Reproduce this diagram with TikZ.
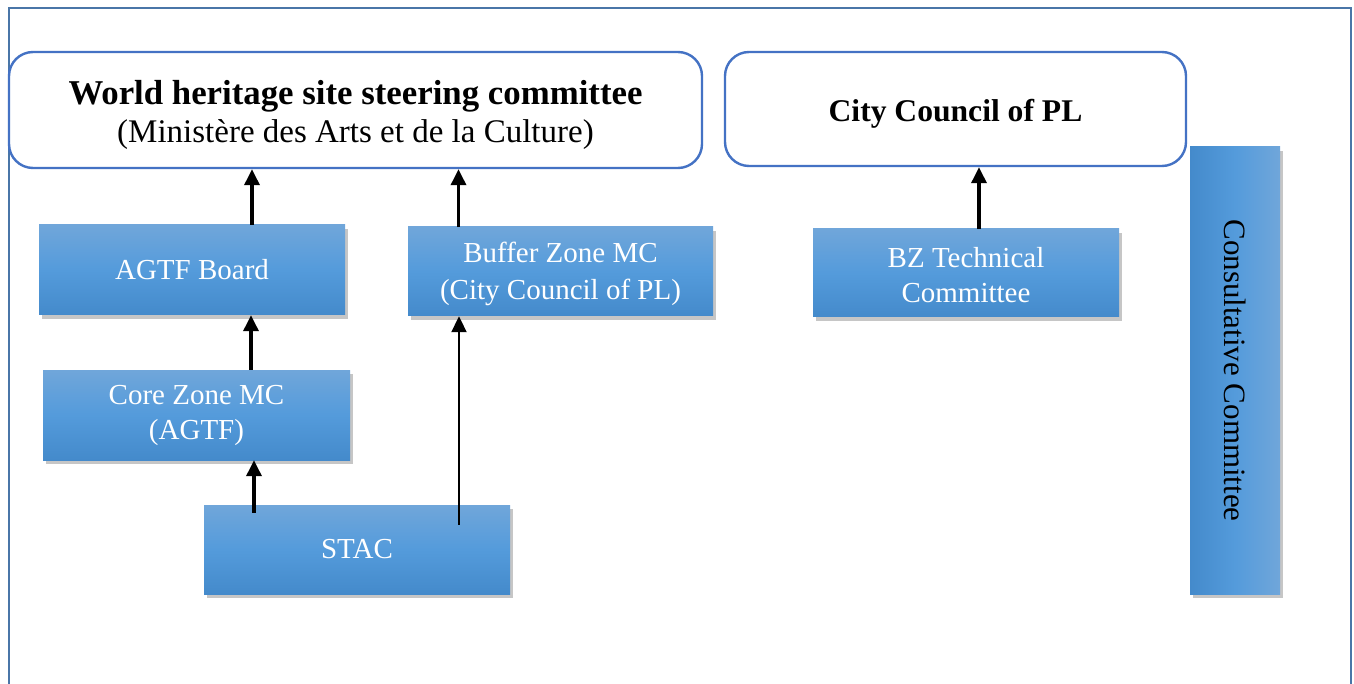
\documentclass[tikz,border=0pt]{standalone}
\usepackage{fontspec}
\setmainfont{Liberation Serif}
\usetikzlibrary{arrows.meta,shadows}
\definecolor{frameblue}{RGB}{74,118,168}
\definecolor{roundblue}{RGB}{68,114,196}
\definecolor{boxtop}{RGB}{112,166,218}
\definecolor{boxmid}{RGB}{84,155,219}
\definecolor{boxbot}{RGB}{68,138,203}
\tikzset{
  x=1pt, y=-1pt,
  roundbox/.style={draw=roundblue, line width=2.4pt, rounded corners=24pt, fill=white,
    minimum width=#1, inner sep=0pt, align=center},
  bluebox/.style={top color=boxtop, bottom color=boxbot, middle color=boxmid,
    draw=none, text=white, inner sep=0pt, align=center,
    font=\fontsize{29}{36}\selectfont,
    drop shadow={shadow xshift=3pt, shadow yshift=-4pt, opacity=0.28, fill=black!80}},
  arr/.style={line width=3.4pt, -{Triangle[width=15pt,length=16pt]}},
  thinarr/.style={line width=2pt, -{Triangle[width=15pt,length=16pt]}},
}
\begin{document}
\begin{tikzpicture}
\useasboundingbox (0,0) rectangle (1354,684);
\fill[white] (0,0) rectangle (1354,684);
% outer frame
\draw[frameblue, line width=2pt] (9,700) -- (9,8) -- (1351,8) -- (1351,700);

% top rounded boxes
\node[roundbox=693pt, minimum height=116pt] (wh) at (355.5,110) {};
\node[align=center, inner sep=0pt] (whtext) at (355.5,115)
  {{\fontsize{34.8}{37}\selectfont\bfseries World heritage site steering committee}\\[6pt]
   {\fontsize{33}{37}\selectfont (Ministère des Arts et de la Culture)}};
\node[roundbox=461pt, minimum height=114pt] (city) at (955.5,109) {};
\node[font=\fontsize{31.6}{36}\selectfont\bfseries, inner sep=0pt] (citytext) at (955.5,114) {City Council of PL};

% blue boxes
\node[bluebox, minimum width=306pt, minimum height=90pt] (agtf) at (192,270) {AGTF Board};
\node[bluebox, minimum width=307pt, minimum height=90pt] (core) at (196.5,415) {};
\node[text=white, align=center, font=\fontsize{29}{35}\selectfont] (coretext) at (196.5,415) {Core Zone MC\\(AGTF)};
\node[bluebox, minimum width=305pt, minimum height=89pt] (buffer) at (560.5,271.5) {};
\node[text=white, align=center, font=\fontsize{29}{37}\selectfont] (buffertext) at (560.5,274) {Buffer Zone MC\\(City Council of PL)};
\node[bluebox, minimum width=306pt, minimum height=88pt] (bz) at (966,273) {};
\node[text=white, align=center, font=\fontsize{29}{35}\selectfont] (bztext) at (966,275) {BZ Technical\\Committee};
\node[bluebox, minimum width=306pt, minimum height=89pt] (stac) at (357,549.5) {STAC};
\node[bluebox, minimum width=90pt, minimum height=447pt, left color=boxbot, right color=boxtop, middle color=boxmid] (cons) at (1235,370.5) {};
\node[rotate=-90, font=\fontsize{31}{34}\selectfont, text=black] (constext) at (cons.center) {Consultative Committee};

% connectors
\draw[arr] ([xshift=60pt]agtf.north) -- ([xshift=60pt]agtf.north |- wh.south);
\draw[arr] ([xshift=54.5pt]core.north) -- ([xshift=54.5pt]core.north |- agtf.south);
\draw[arr] ([xshift=-103pt,yshift=-8pt]stac.north) -- ([xshift=-103pt]stac.north |- core.south);
\draw[thinarr] ([xshift=102pt,yshift=-20pt]stac.north) -- ([xshift=102pt]stac.north |- buffer.south);
\draw[arr] ([xshift=-102pt]buffer.north) -- ([xshift=-102pt]buffer.north |- wh.south);
\draw[arr] ([xshift=13pt]bz.north) -- ([xshift=13pt]bz.north |- city.south);
\end{tikzpicture}
\end{document}
